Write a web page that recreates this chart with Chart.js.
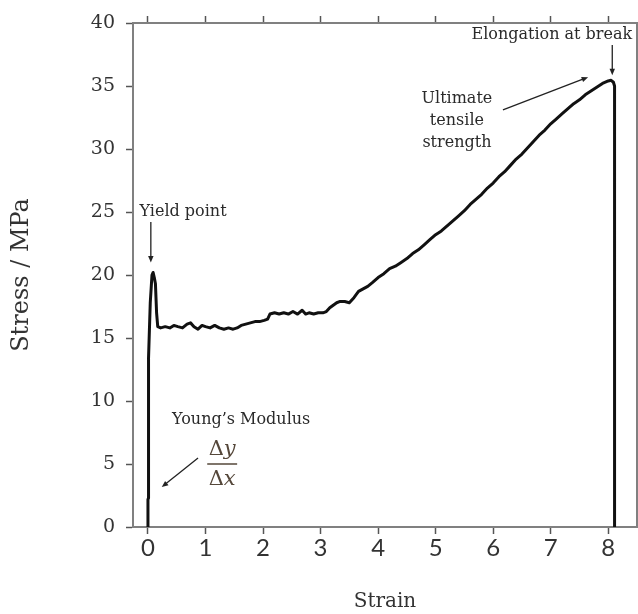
<!DOCTYPE html>
<html>
<head>
<meta charset="utf-8">
<title>Stress-strain curve</title>
<script src="https://cdn.jsdelivr.net/npm/chart.js@4.4.1/dist/chart.umd.min.js"></script>
<style>
  body { margin: 0; background: #fff; }
  #wrap { width: 638px; height: 614px; }
</style>
</head>
<body>
<div id="wrap"><canvas id="grafico"></canvas></div>
<script>
// tensile test curve
const strain = [
  0, 0, 0.01, 0.01, 0.04, 0.07, 0.09, 0.11, 0.13, 0.15, 0.17, 0.22, 0.30, 0.38,
  0.45, 0.52, 0.60, 0.68, 0.74, 0.80, 0.87, 0.94, 1.00, 1.08, 1.16, 1.24, 1.32,
  1.40, 1.48, 1.55, 1.62, 1.70, 1.78, 1.86, 1.94, 2.02, 2.08, 2.12, 2.20, 2.28,
  2.36, 2.44, 2.52, 2.60, 2.68, 2.74, 2.80, 2.88, 2.96, 3.04, 3.10, 3.16, 3.22,
  3.28, 3.34, 3.42, 3.50, 3.58, 3.66, 3.74, 3.82, 3.90, 4.00, 4.10, 4.20, 4.30,
  4.40, 4.50, 4.60, 4.70, 4.80, 4.90, 5.00, 5.10, 5.20, 5.30, 5.40, 5.50, 5.60,
  5.70, 5.80, 5.90, 6.00, 6.10, 6.20, 6.30, 6.40, 6.50, 6.60, 6.70, 6.80, 6.90,
  7.00, 7.10, 7.20, 7.30, 7.40, 7.50, 7.60, 7.70, 7.80, 7.90, 8.00, 8.05, 8.09,
  8.11, 8.11
];
const stress = [
  0, 2.2, 2.3, 13.4, 17.8, 20.0, 20.2, 19.8, 19.3, 17.0, 15.9, 15.8, 15.9, 15.8,
  16.0, 15.9, 15.8, 16.1, 16.2, 15.9, 15.7, 16.0, 15.9, 15.8, 16.0, 15.8, 15.7,
  15.8, 15.7, 15.8, 16.0, 16.1, 16.2, 16.3, 16.3, 16.4, 16.5, 16.9, 17.0, 16.9,
  17.0, 16.9, 17.1, 16.9, 17.2, 16.9, 17.0, 16.9, 17.0, 17.0, 17.1, 17.4, 17.6,
  17.8, 17.9, 17.9, 17.8, 18.2, 18.7, 18.9, 19.1, 19.4, 19.8, 20.1, 20.5, 20.7,
  21.0, 21.3, 21.7, 22.0, 22.4, 22.8, 23.2, 23.5, 23.9, 24.3, 24.7, 25.1, 25.6,
  26.0, 26.4, 26.9, 27.3, 27.8, 28.2, 28.7, 29.2, 29.6, 30.1, 30.6, 31.1, 31.5,
  32.0, 32.4, 32.8, 33.2, 33.6, 33.9, 34.3, 34.6, 34.9, 35.2, 35.4, 35.45, 35.3,
  35.0, 0
];
const xTicks = [0, 1, 2, 3, 4, 5, 6, 7, 8];
const yTicks = [0, 5, 10, 15, 20, 25, 30, 35, 40];

// labels and arrows, in axis units
const notes = [
  { text: "Elongation at break", x: 7.02, y: 39.05 },
  { text: "Ultimate", x: 5.37, y: 33.95 },
  { text: "tensile", x: 5.37, y: 32.2 },
  { text: "strength", x: 5.37, y: 30.5 },
  { text: "Yield point", x: 0.61, y: 25.0 },
  { text: "Young\u2019s Modulus", x: 1.62, y: 8.49 }
];
const arrows = [
  { x1: 8.07, y1: 38.25, x2: 8.07, y2: 35.85 },
  { x1: 6.17, y1: 33.1, x2: 7.65, y2: 35.7 },
  { x1: 0.05, y1: 24.2, x2: 0.05, y2: 21.0 },
  { x1: 0.87, y1: 5.48, x2: 0.24, y2: 3.17 }
];

function seta(ctx, x1, y1, x2, y2) {
  const ang = Math.atan2(y2 - y1, x2 - x1);
  const head = 7;
  ctx.beginPath();
  ctx.moveTo(x1, y1);
  ctx.lineTo(x2 - Math.cos(ang) * head * 0.8, y2 - Math.sin(ang) * head * 0.8);
  ctx.stroke();
  ctx.beginPath();
  ctx.moveTo(x2, y2);
  ctx.lineTo(x2 - head * Math.cos(ang - 0.4), y2 - head * Math.sin(ang - 0.4));
  ctx.lineTo(x2 - head * Math.cos(ang + 0.4), y2 - head * Math.sin(ang + 0.4));
  ctx.closePath();
  ctx.fill();
}

function delta(ctx, letra, cx, cy) {
  ctx.font = '21px "DejaVu Serif"';
  const w1 = ctx.measureText("\u0394").width;
  ctx.font = 'italic 21px "DejaVu Serif"';
  const w2 = ctx.measureText(letra).width;
  const x0 = cx - (w1 + w2) / 2;
  ctx.textAlign = "left";
  ctx.font = '21px "DejaVu Serif"';
  ctx.fillText("\u0394", x0, cy);
  ctx.font = 'italic 21px "DejaVu Serif"';
  ctx.fillText(letra, x0 + w1, cy);
}

const notasPlugin = {
  id: "notas",
  afterDraw(chart) {
    const { ctx } = chart;
    const sx = chart.scales.x, sy = chart.scales.y;
    const px = (v) => sx.getPixelForValue(v);
    const py = (v) => sy.getPixelForValue(v);
    ctx.save();
    ctx.fillStyle = "#2a2a2a";
    ctx.strokeStyle = "#222";
    ctx.lineWidth = 1.3;
    ctx.font = '16px "DejaVu Serif"';
    ctx.textAlign = "center";
    ctx.textBaseline = "middle";
    notes.forEach((n) => ctx.fillText(n.text, px(n.x), py(n.y)));
    ctx.fillStyle = "#222";
    arrows.forEach((a) => seta(ctx, px(a.x1), py(a.y1), px(a.x2), py(a.y2)));

    // slope fraction
    ctx.fillStyle = "#55473a";
    ctx.strokeStyle = "#55473a";
    delta(ctx, "y", px(1.29), py(6.11));
    delta(ctx, "x", px(1.29), py(3.73));
    ctx.lineWidth = 1.5;
    ctx.beginPath();
    ctx.moveTo(px(1.03), py(5.0));
    ctx.lineTo(px(1.55), py(5.0));
    ctx.stroke();
    ctx.restore();
  }
};

const grade = {
  drawOnChartArea: false,
  drawTicks: true,
  tickLength: 7,
  tickColor: "#555",
  tickWidth: 1.5
};
const borda = { display: true, color: "#808080", width: 2 };

const graficoTensao = new Chart(document.getElementById("grafico"), {
  type: "line",
  data: {
    datasets: [
      {
        label: "Stress",
        data: strain.map((s, i) => ({ x: s, y: stress[i] })),
        borderColor: "#111",
        borderWidth: 3,
        pointRadius: 0,
        tension: 0,
        fill: false,
        borderJoinStyle: "round"
      }
    ]
  },
  options: {
    responsive: true,
    maintainAspectRatio: false,
    animation: false,
    plugins: { legend: { display: false }, tooltip: { enabled: false } },
    scales: {
      x: {
        type: "linear",
        position: "bottom",
        min: -0.26,
        max: 8.5,
        afterBuildTicks: (s) => { s.ticks = xTicks.map((v) => ({ value: v })); },
        afterFit: (s) => { s.height = 87; },
        ticks: {
          font: { family: "Lato", size: 24 },
          color: "#333",
          padding: 0,
          callback: (v) => String(v)
        },
        grid: grade,
        border: borda,
        title: {
          display: true,
          text: "Strain",
          font: { family: "DejaVu Serif", size: 20 },
          color: "#333",
          padding: { top: 1, bottom: 0 }
        }
      },
      x2: {
        type: "linear",
        position: "top",
        min: -0.26,
        max: 8.5,
        afterBuildTicks: (s) => { s.ticks = xTicks.map((v) => ({ value: v })); },
        afterFit: (s) => { s.height = 23; },
        ticks: { display: false },
        grid: grade,
        border: borda
      },
      y: {
        min: 0,
        max: 40,
        afterBuildTicks: (s) => { s.ticks = yTicks.map((v) => ({ value: v })); },
        afterFit: (s) => { s.width = 133; },
        ticks: {
          font: { family: "DejaVu Serif", size: 19 },
          color: "#333",
          padding: 11,
          callback: (v) => String(v)
        },
        grid: grade,
        border: borda,
        title: {
          display: true,
          text: "Stress / MPa",
          font: { family: "DejaVu Serif", size: 24 },
          color: "#333",
          padding: { top: 7, bottom: 0 }
        }
      },
      y2: {
        position: "right",
        min: 0,
        max: 40,
        afterFit: (s) => { s.width = 1; },
        ticks: { display: false },
        grid: { drawOnChartArea: false, drawTicks: false },
        border: borda
      }
    }
  },
  plugins: [notasPlugin]
});
</script>
</body>
</html>
